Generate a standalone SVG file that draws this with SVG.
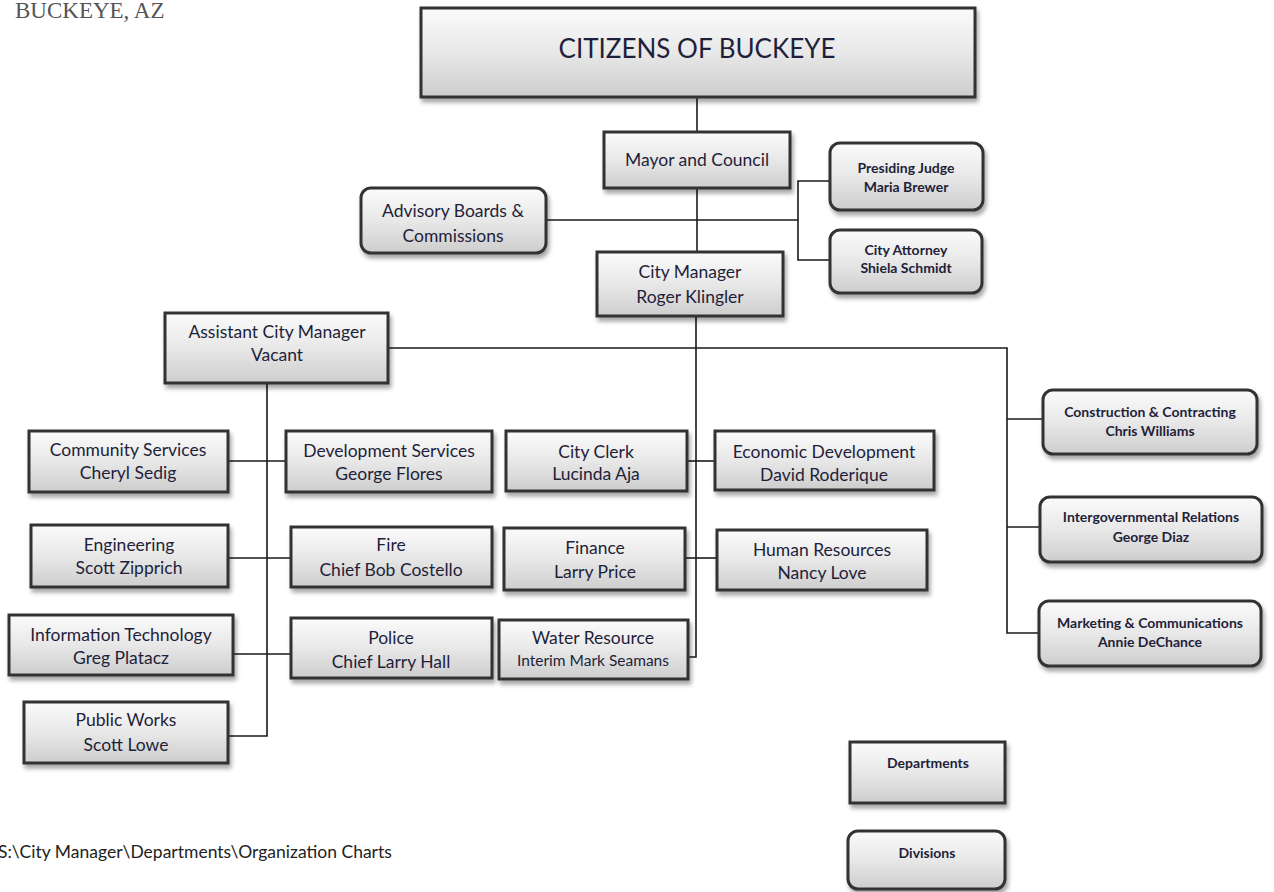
<svg xmlns="http://www.w3.org/2000/svg" width="1274" height="892" viewBox="0 0 1274 892">
<defs>
<linearGradient id="g" x1="0" y1="0" x2="0" y2="1">
<stop offset="0" stop-color="#fbfbfb"/>
<stop offset="0.5" stop-color="#e8e8e8"/>
<stop offset="1" stop-color="#cdcdcd"/>
</linearGradient>
<filter id="sh" x="-10%" y="-10%" width="125%" height="140%">
<feDropShadow dx="2" dy="4" stdDeviation="2" flood-color="#000" flood-opacity="0.35"/>
</filter>
</defs>
<style>
.b{fill:url(#g);stroke:#333;stroke-width:3;filter:url(#sh)}
.t{font-family:Lato,"Open Sans",sans-serif;font-size:17.5px;fill:#1f1f3a;text-anchor:middle}
.s{font-family:Lato,"Open Sans",sans-serif;font-size:14px;font-weight:bold;fill:#1f1f3a;text-anchor:middle}
.c{fill:none;stroke:#1a1a1a;stroke-width:1.6}
</style>
<rect width="1274" height="892" fill="#fff"/>
<text x="15" y="18" style="font-family:'Liberation Serif',serif;font-size:23px;fill:#555">BUCKEYE, AZ</text>
<text x="-2" y="858" style="font-family:Lato,sans-serif;font-size:17.5px;fill:#222">S:\City Manager\Departments\Organization Charts</text>

<g id="connectors">
<path class="c" d="M697 97V132"/>
<path class="c" d="M697 188V252"/>
<path class="c" d="M546 220H798"/>
<path class="c" d="M830 181H798V260H830"/>
<path class="c" d="M696 316V657H688"/>
<path class="c" d="M687 461H715"/>
<path class="c" d="M685 558H717"/>
<path class="c" d="M388 348H1007V633H1039"/>
<path class="c" d="M1007 419H1043"/>
<path class="c" d="M1007 527H1040"/>
<path class="c" d="M267 383V736H228"/>
<path class="c" d="M228 461H286"/>
<path class="c" d="M228 558H291"/>
<path class="c" d="M233 654H291"/>
</g>

<g id="citizens"><rect class="b" x="421" y="8" width="554" height="89"/><text class="t" x="697" y="58" style="font-size:26px">CITIZENS OF BUCKEYE</text></g>
<g id="mayor"><rect class="b" x="604" y="132" width="186" height="56"/><text class="t" x="697" y="166">Mayor and Council</text></g>
<g id="advisory"><rect class="b" x="361" y="188" width="185" height="65" rx="10"/><text class="t" x="453" y="217">Advisory Boards &amp;</text><text class="t" x="453" y="242">Commissions</text></g>
<g id="judge"><rect class="b" x="830" y="143" width="153" height="67" rx="10"/><text class="s" x="906" y="173">Presiding Judge</text><text class="s" x="906" y="192">Maria Brewer</text></g>
<g id="attorney"><rect class="b" x="830" y="230" width="152" height="63" rx="10"/><text class="s" x="906" y="255">City Attorney</text><text class="s" x="906" y="273">Shiela Schmidt</text></g>
<g id="citymanager"><rect class="b" x="597" y="252" width="186" height="64"/><text class="t" x="690" y="278">City Manager</text><text class="t" x="690" y="303">Roger Klingler</text></g>
<g id="acm"><rect class="b" x="165" y="313" width="223" height="70"/><text class="t" x="277" y="338">Assistant City Manager</text><text class="t" x="277" y="361">Vacant</text></g>
<g id="community"><rect class="b" x="29" y="431" width="199" height="61"/><text class="t" x="128" y="456">Community Services</text><text class="t" x="128" y="479">Cheryl Sedig</text></g>
<g id="devservices"><rect class="b" x="286" y="431" width="206" height="61"/><text class="t" x="389" y="457">Development Services</text><text class="t" x="389" y="480">George Flores</text></g>
<g id="clerk"><rect class="b" x="506" y="431" width="181" height="60"/><text class="t" x="596" y="458">City Clerk</text><text class="t" x="596" y="480">Lucinda Aja</text></g>
<g id="econ"><rect class="b" x="715" y="431" width="219" height="59"/><text class="t" x="824" y="458">Economic Development</text><text class="t" x="824" y="481">David Roderique</text></g>
<g id="engineering"><rect class="b" x="31" y="525" width="197" height="62"/><text class="t" x="129" y="551">Engineering</text><text class="t" x="129" y="574">Scott Zipprich</text></g>
<g id="fire"><rect class="b" x="291" y="527" width="201" height="60"/><text class="t" x="391" y="551">Fire</text><text class="t" x="391" y="576">Chief Bob Costello</text></g>
<g id="finance"><rect class="b" x="504" y="528" width="181" height="62"/><text class="t" x="595" y="554">Finance</text><text class="t" x="595" y="578">Larry Price</text></g>
<g id="hr"><rect class="b" x="717" y="530" width="210" height="60"/><text class="t" x="822" y="556">Human Resources</text><text class="t" x="822" y="579">Nancy Love</text></g>
<g id="it"><rect class="b" x="9" y="615" width="224" height="60"/><text class="t" x="121" y="641">Information Technology</text><text class="t" x="121" y="664">Greg Platacz</text></g>
<g id="police"><rect class="b" x="291" y="618" width="201" height="60"/><text class="t" x="391" y="644">Police</text><text class="t" x="391" y="668">Chief Larry Hall</text></g>
<g id="water"><rect class="b" x="499" y="620" width="189" height="59"/><text class="t" x="593" y="644">Water Resource</text><text class="t" x="593" y="666" style="font-size:15.5px">Interim Mark Seamans</text></g>
<g id="publicworks"><rect class="b" x="24" y="702" width="204" height="61"/><text class="t" x="126" y="726">Public Works</text><text class="t" x="126" y="751">Scott Lowe</text></g>
<g id="construction"><rect class="b" x="1043" y="390" width="214" height="64" rx="10"/><text class="s" x="1150" y="417">Construction &amp; Contracting</text><text class="s" x="1150" y="436">Chris Williams</text></g>
<g id="intergov"><rect class="b" x="1040" y="497" width="222" height="65" rx="10"/><text class="s" x="1151" y="522">Intergovernmental Relations</text><text class="s" x="1151" y="542">George Diaz</text></g>
<g id="marketing"><rect class="b" x="1039" y="601" width="222" height="65" rx="10"/><text class="s" x="1150" y="628">Marketing &amp; Communications</text><text class="s" x="1150" y="647">Annie DeChance</text></g>
<g id="departments"><rect class="b" x="850" y="742" width="155" height="61"/><text class="s" x="928" y="768" style="font-size:14px">Departments</text></g>
<g id="divisions"><rect class="b" x="848" y="831" width="157" height="58" rx="10"/><text class="s" x="927" y="858" style="font-size:14px">Divisions</text></g>
</svg>
